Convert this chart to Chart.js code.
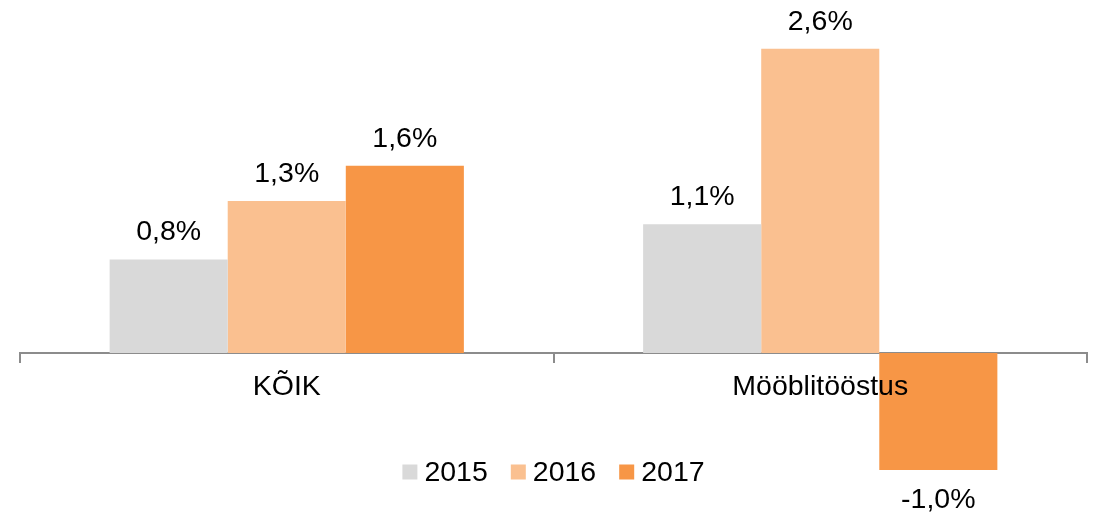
<!DOCTYPE html>
<html>
<head>
<meta charset="utf-8">
<script src="https://cdn.jsdelivr.net/npm/chart.js@4/dist/chart.umd.min.js"></script>
<style>
  html, body { margin: 0; padding: 0; background: #fff; }
  #wrap { width: 1094px; height: 515px; position: relative; }
</style>
</head>
<body>
<div id="wrap"><canvas id="c"></canvas></div>
<script>
// kategooriad ja aastate väärtused (%)
var categories = ['KÕIK', 'Mööblitööstus'];
var years = ['2015', '2016', '2017'];
var values2015 = [0.8, 1.1];
var values2016 = [1.3, 2.6];
var values2017 = [1.6, -1.0];
var colors = ['#d9d9d9', '#fac090', '#f79646'];

var FONT = 'Liberation Sans, Arial, sans-serif';

function fmt(v) { return v.toFixed(1).replace('.', ',') + '%'; }

// väärtuste sildid tulpade kohal / all
var valueLabels = {
  id: 'valueLabels',
  afterDatasetsDraw: function (chart) {
    var ctx = chart.ctx;
    ctx.save();
    ctx.font = '28.5px ' + FONT;
    ctx.fillStyle = '#000';
    ctx.textAlign = 'center';
    ctx.textBaseline = 'alphabetic';
    chart.data.datasets.forEach(function (ds, i) {
      chart.getDatasetMeta(i).data.forEach(function (bar, j) {
        var v = ds.data[j];
        if (v >= 0) ctx.fillText(fmt(v), bar.x, bar.y - 19);
        else ctx.fillText(fmt(v), bar.x, bar.y + 38);
      });
    });
    ctx.restore();
  }
};

// legend joonise sees (Exceli stiilis)
var innerLegend = {
  id: 'innerLegend',
  afterDraw: function (chart) {
    var ctx = chart.ctx, box = 15, gap = 7, spacing = 23, cy = 472;
    ctx.save();
    ctx.font = '28.5px ' + FONT;
    ctx.textBaseline = 'middle';
    ctx.textAlign = 'left';
    var items = chart.data.datasets.map(function (ds) {
      return { text: ds.label, color: ds.backgroundColor, w: box + gap + ctx.measureText(ds.label).width };
    });
    var total = items.reduce(function (s, it) { return s + it.w; }, 0) + spacing * (items.length - 1);
    var x = (chart.chartArea.left + chart.chartArea.right) / 2 - total / 2;
    items.forEach(function (it) {
      ctx.fillStyle = it.color;
      ctx.fillRect(x, cy - box / 2, box, box);
      ctx.fillStyle = '#000';
      ctx.fillText(it.text, x + box + gap, cy + 1);
      x += it.w + spacing;
    });
    ctx.restore();
  }
};

var series = [values2015, values2016, values2017];

new Chart(document.getElementById('c').getContext('2d'), {
  type: 'bar',
  data: {
    labels: categories,
    datasets: years.map(function (y, i) {
      return { label: y, data: series[i], backgroundColor: colors[i], borderWidth: 0 };
    })
  },
  options: {
    responsive: true,
    maintainAspectRatio: false,
    animation: false,
    layout: { padding: { left: 20, right: 7, top: 25.4, bottom: 0 } },
    datasets: { bar: { barPercentage: 1, categoryPercentage: 0.664 } },
    plugins: { legend: { display: false }, tooltip: { enabled: false } },
    scales: {
      x: {
        position: { y: 0 },
        afterFit: function (s) { s.height = 0; },
        grid: { drawOnChartArea: false, drawTicks: true, tickLength: 9, color: '#8c8c8c', lineWidth: 2, offset: true },
        border: { display: true, color: '#8c8c8c', width: 2 },
        ticks: { color: '#000', font: { family: FONT, size: 28.5 }, padding: 8, z: 1 }
      },
      y: {
        display: false,
        min: -1.385,
        max: 2.8
      }
    }
  },
  plugins: [valueLabels, innerLegend]
});
</script>
</body>
</html>
